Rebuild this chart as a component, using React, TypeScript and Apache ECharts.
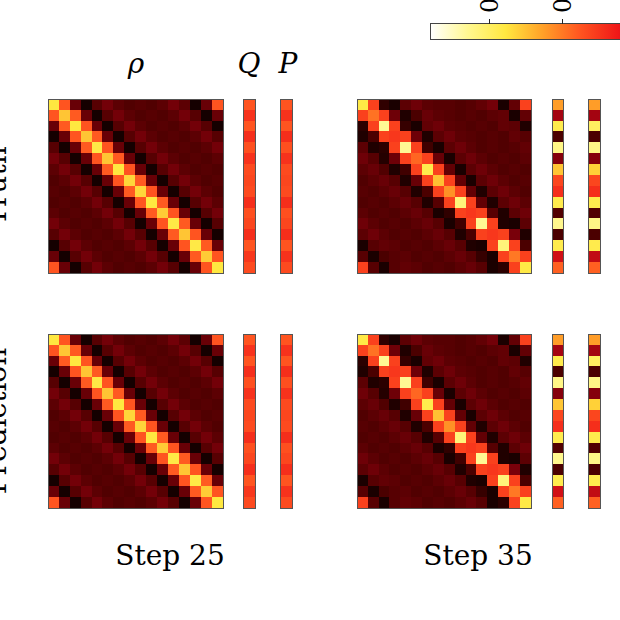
import React, { useEffect, useRef } from "react";
import * as echarts from "echarts";

// ---------- data ----------
const idx16 = ["0","1","2","3","4","5","6","7","8","9","10","11","12","13","14","15"];

const rho25Truth: number[][] = [
  [0.75,0.50,0.17,0.02,0.14,0.19,0.15,0.13,0.14,0.13,0.15,0.19,0.15,0.02,0.17,0.50],
  [0.50,0.69,0.51,0.17,0.02,0.14,0.19,0.15,0.13,0.14,0.13,0.15,0.19,0.14,0.02,0.17],
  [0.17,0.51,0.75,0.50,0.17,0.02,0.14,0.19,0.15,0.13,0.14,0.13,0.15,0.19,0.14,0.02],
  [0.02,0.17,0.50,0.69,0.51,0.17,0.02,0.14,0.19,0.15,0.13,0.14,0.13,0.15,0.19,0.14],
  [0.14,0.02,0.17,0.51,0.76,0.50,0.17,0.02,0.14,0.19,0.15,0.13,0.14,0.13,0.15,0.19],
  [0.19,0.14,0.02,0.17,0.50,0.69,0.51,0.17,0.02,0.14,0.19,0.15,0.13,0.14,0.13,0.15],
  [0.15,0.19,0.14,0.02,0.17,0.51,0.75,0.50,0.17,0.02,0.14,0.19,0.15,0.13,0.14,0.13],
  [0.13,0.15,0.19,0.14,0.02,0.17,0.50,0.72,0.51,0.17,0.02,0.14,0.19,0.15,0.13,0.14],
  [0.14,0.13,0.15,0.19,0.14,0.02,0.17,0.51,0.72,0.50,0.17,0.02,0.14,0.19,0.15,0.13],
  [0.13,0.14,0.13,0.15,0.19,0.14,0.02,0.17,0.50,0.75,0.51,0.17,0.02,0.14,0.19,0.15],
  [0.15,0.13,0.14,0.13,0.15,0.19,0.14,0.02,0.17,0.51,0.70,0.50,0.17,0.02,0.14,0.19],
  [0.19,0.15,0.13,0.14,0.13,0.15,0.19,0.14,0.02,0.17,0.50,0.76,0.51,0.17,0.02,0.14],
  [0.14,0.19,0.15,0.13,0.14,0.13,0.15,0.19,0.14,0.02,0.17,0.51,0.69,0.50,0.17,0.02],
  [0.02,0.14,0.19,0.15,0.13,0.14,0.13,0.15,0.19,0.14,0.02,0.17,0.50,0.76,0.51,0.17],
  [0.17,0.02,0.14,0.19,0.15,0.13,0.14,0.13,0.15,0.19,0.14,0.02,0.17,0.51,0.70,0.50],
  [0.50,0.17,0.02,0.14,0.19,0.15,0.13,0.14,0.13,0.15,0.19,0.14,0.02,0.17,0.50,0.75],
];
const rho25Pred: number[][] = rho25Truth;

const rho35Truth: number[][] = [
  [0.76,0.46,0.07,0.03,0.15,0.18,0.15,0.14,0.14,0.13,0.14,0.16,0.19,0.03,0.16,0.46],
  [0.46,0.55,0.46,0.18,0.04,0.12,0.17,0.15,0.14,0.13,0.14,0.13,0.15,0.16,0.03,0.16],
  [0.06,0.46,0.88,0.46,0.08,0.03,0.16,0.18,0.15,0.14,0.13,0.14,0.13,0.16,0.15,0.04],
  [0.04,0.12,0.46,0.44,0.46,0.18,0.04,0.15,0.18,0.15,0.14,0.13,0.14,0.13,0.16,0.14],
  [0.15,0.04,0.06,0.46,0.88,0.46,0.10,0.03,0.15,0.18,0.15,0.13,0.14,0.13,0.14,0.16],
  [0.18,0.14,0.05,0.18,0.46,0.53,0.46,0.17,0.03,0.15,0.18,0.15,0.13,0.14,0.13,0.15],
  [0.15,0.17,0.13,0.04,0.10,0.46,0.77,0.46,0.16,0.03,0.15,0.18,0.15,0.13,0.14,0.13],
  [0.13,0.15,0.17,0.14,0.04,0.17,0.46,0.68,0.46,0.16,0.03,0.15,0.18,0.15,0.13,0.14],
  [0.14,0.13,0.15,0.17,0.14,0.04,0.12,0.46,0.60,0.46,0.16,0.04,0.15,0.18,0.15,0.13],
  [0.13,0.14,0.13,0.15,0.17,0.14,0.04,0.14,0.46,0.84,0.46,0.16,0.04,0.15,0.18,0.15],
  [0.15,0.13,0.14,0.13,0.15,0.17,0.14,0.03,0.07,0.46,0.44,0.46,0.14,0.04,0.15,0.18],
  [0.18,0.15,0.13,0.14,0.13,0.15,0.17,0.14,0.03,0.10,0.46,0.88,0.46,0.04,0.03,0.15],
  [0.15,0.18,0.15,0.13,0.14,0.13,0.15,0.17,0.14,0.04,0.12,0.46,0.44,0.46,0.20,0.04],
  [0.03,0.14,0.16,0.15,0.13,0.14,0.13,0.15,0.17,0.14,0.04,0.03,0.46,0.84,0.46,0.12],
  [0.14,0.03,0.12,0.14,0.15,0.13,0.14,0.13,0.15,0.17,0.14,0.08,0.03,0.46,0.56,0.46],
  [0.46,0.14,0.03,0.14,0.16,0.15,0.13,0.14,0.13,0.15,0.17,0.14,0.03,0.06,0.46,0.76],
];
const rho35Pred: number[][] = rho35Truth;

const q25Truth = [0.50,0.43,0.50,0.42,0.49,0.43,0.48,0.47,0.48,0.42,0.49,0.47,0.42,0.50,0.44,0.48];
const p25Truth = [0.50,0.43,0.50,0.42,0.49,0.43,0.48,0.47,0.48,0.42,0.49,0.47,0.42,0.50,0.43,0.48];
const q25Pred = q25Truth;
const p25Pred = p25Truth;

const q35Truth = [0.62,0.27,0.77,0.12,0.86,0.22,0.69,0.47,0.42,0.77,0.13,0.87,0.12,0.77,0.33,0.52];
const p35Truth = [0.62,0.27,0.80,0.12,0.86,0.22,0.71,0.47,0.42,0.77,0.13,0.86,0.12,0.77,0.31,0.52];
const q35Pred = q35Truth;
const p35Pred = p35Truth;

const colorStops = ["#0a0000","#4e0000","#960010","#f01818","#ff5420","#ffa028","#ffe840","#fff890","#ffffff"];
const colorbarTicks = ["0.5", "0.4"];
const rowLabels = ["Truth", "Prediction"];
const stepLabels = ["Step 25", "Step 35"];
const colTitles = ["ρ", "Q", "P"];

// ---------- layout ----------
const ROW_TOP = [99, 334];
const H = 174;
const COLS = [
  { left: 48, width: 175 }, { left: 243, width: 12 }, { left: 280, width: 12 },
  { left: 357, width: 174 }, { left: 552, width: 11 }, { left: 588, width: 12 },
];

function matrixData(m: number[][]) {
  const out: [number, number, number][] = [];
  m.forEach((row, i) => row.forEach((v, j) => out.push([j, i, v])));
  return out;
}
function colData(v: number[]) {
  return v.map((val, i) => [0, i, val] as [number, number, number]);
}

export default function App() {
  const ref = useRef<HTMLDivElement>(null);
  useEffect(() => {
    document.body.style.margin = "0";
    const st = document.createElement("style");
    st.textContent = "#chart-root svg path, #chart-root svg rect { shape-rendering: crispEdges; }";
    document.head.appendChild(st);
    if (!ref.current) return;
    const chart = echarts.init(ref.current, null, { renderer: "svg" });

    const panels: { data: [number, number, number][]; mat: boolean }[][] = [
      [
        { data: matrixData(rho25Truth), mat: true }, { data: colData(q25Truth), mat: false }, { data: colData(p25Truth), mat: false },
        { data: matrixData(rho35Truth), mat: true }, { data: colData(q35Truth), mat: false }, { data: colData(p35Truth), mat: false },
      ],
      [
        { data: matrixData(rho25Pred), mat: true }, { data: colData(q25Pred), mat: false }, { data: colData(p25Pred), mat: false },
        { data: matrixData(rho35Pred), mat: true }, { data: colData(q35Pred), mat: false }, { data: colData(p35Pred), mat: false },
      ],
    ];

    const grid: any[] = [], xAxis: any[] = [], yAxis: any[] = [], series: any[] = [];
    let g = 0;
    panels.forEach((row, r) => {
      row.forEach((p, c) => {
        grid.push({
          left: COLS[c].left, top: ROW_TOP[r], width: COLS[c].width, height: H,
          show: true, borderColor: "#555", borderWidth: 1, backgroundColor: "transparent", z: 10,
        });
        xAxis.push({ type: "category", gridIndex: g, data: p.mat ? idx16 : ["0"], show: false });
        yAxis.push({ type: "category", gridIndex: g, data: idx16, inverse: true, show: false });
        series.push({
          type: "heatmap", xAxisIndex: g, yAxisIndex: g, data: p.data,
          itemStyle: { borderWidth: 0 }, emphasis: { disabled: true },
        });
        g++;
      });
    });

    const serif = "'DejaVu Serif', serif";
    const graphic: any[] = [];
    const titleX = [136, 249, 288];
    colTitles.forEach((t, i) => {
      graphic.push({
        type: "text", x: titleX[i], y: 63,
        style: { text: t, font: `italic 28px ${serif}`, fill: "#000", align: "center", verticalAlign: "middle" },
      });
    });
    stepLabels.forEach((t, i) => {
      graphic.push({
        type: "text", x: [170, 478][i], y: 555,
        style: { text: t, font: `28px ${serif}`, fill: "#000", align: "center", verticalAlign: "middle" },
      });
    });
    rowLabels.forEach((t, i) => {
      graphic.push({
        type: "text", x: -4, y: ROW_TOP[i] + H / 2, rotation: Math.PI / 2,
        style: { text: t, font: `28px ${serif}`, fill: "#000", align: "center", verticalAlign: "middle" },
      });
    });
    // colorbar (reversed scale: white on the left)
    graphic.push({
      type: "rect", shape: { x: 430.5, y: 23.5, width: 300, height: 16 },
      style: {
        fill: new echarts.graphic.LinearGradient(0, 0, 1, 0,
          colorStops.slice().reverse().map((c, i) => ({ offset: i / (colorStops.length - 1), color: c }))),
        stroke: "#444", lineWidth: 1,
      },
    });
    const tickX = [489.5, 562.5];
    colorbarTicks.forEach((t, i) => {
      graphic.push({ type: "line", shape: { x1: tickX[i], y1: 19, x2: tickX[i], y2: 23.5 }, style: { stroke: "#222", lineWidth: 1 } });
      graphic.push({
        type: "text", x: tickX[i], y: 13, rotation: Math.PI / 2,
        style: { text: t, font: `24px ${serif}`, fill: "#000", align: "left", verticalAlign: "middle" },
      });
    });

    chart.setOption({
      animation: false,
      backgroundColor: "#fff",
      grid, xAxis, yAxis, series,
      visualMap: {
        type: "continuous", show: false, min: 0, max: 1,
        seriesIndex: series.map((_, i) => i),
        inRange: { color: colorStops },
      },
      graphic,
    });
    return () => { chart.dispose(); st.remove(); };
  }, []);
  return <div id="chart-root" ref={ref} style={{ width: 620, height: 620 }} />;
}
